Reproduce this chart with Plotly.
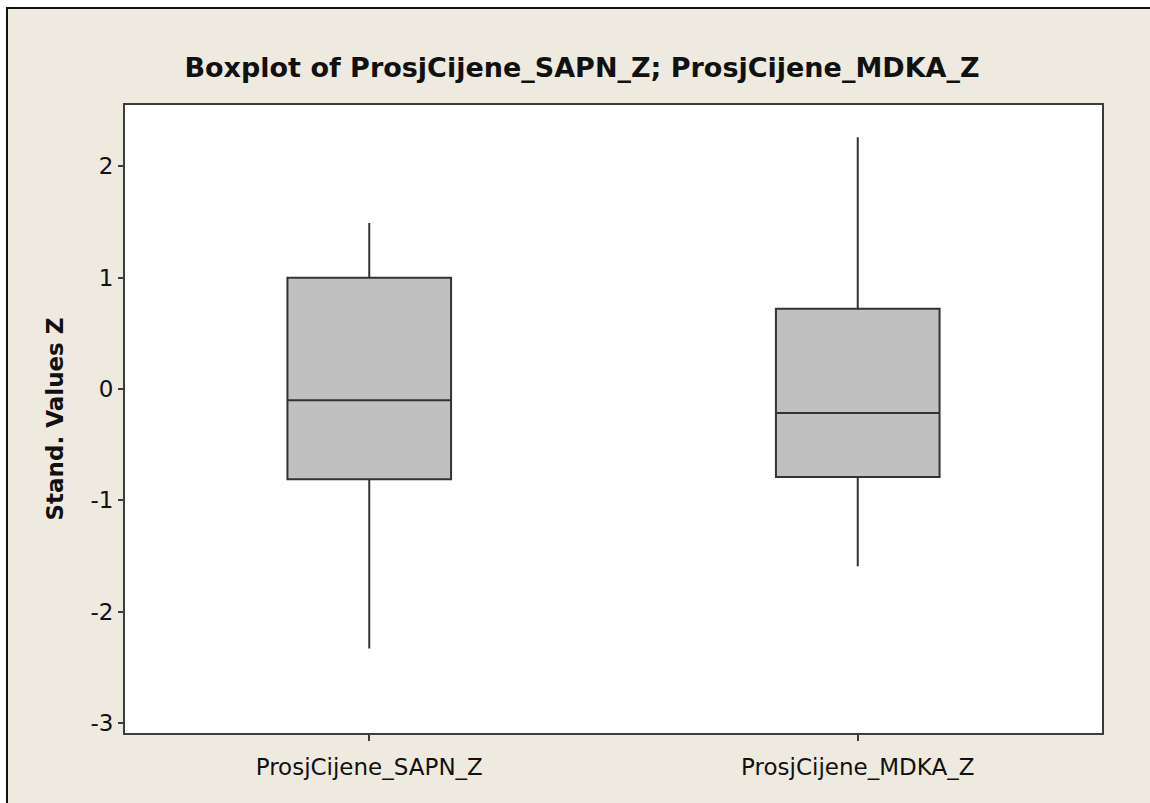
import plotly.graph_objects as go

# Data
categories = ["ProsjCijene_SAPN_Z", "ProsjCijene_MDKA_Z"]
q1_vals = [-0.81, -0.79]
median_vals = [-0.10, -0.215]
q3_vals = [1.00, 0.72]
lower_whisker = [-2.33, -1.59]
upper_whisker = [1.49, 2.26]
y_ticks = [-3, -2, -1, 0, 1, 2]

W, H = 1150, 803
ML, MR, MT, MB = 125, 48, 105, 70
PW, PH = W - ML - MR, H - MT - MB

def px_x(px):
    return (px - ML) / PW

def px_y(py):
    return (H - MB - py) / PH

BG = "#EEEADF"
DARK = "#333333"
FONT = "DejaVu Sans"

fig = go.Figure()
fig.add_trace(go.Box(
    x=categories,
    q1=q1_vals,
    median=median_vals,
    q3=q3_vals,
    lowerfence=lower_whisker,
    upperfence=upper_whisker,
    fillcolor="#C0C0C0",
    line=dict(color=DARK, width=2),
    whiskerwidth=0,
    width=0.335,
    boxpoints=False,
    showlegend=False,
))

shapes = [
    dict(type="rect", xref="paper", yref="paper", x0=px_x(-20), x1=px_x(6), y0=px_y(-20), y1=px_y(830),
         fillcolor="white", line=dict(width=0), layer="above"),
    dict(type="rect", xref="paper", yref="paper", x0=px_x(-20), x1=px_x(1180), y0=px_y(-20), y1=px_y(7),
         fillcolor="white", line=dict(width=0), layer="above"),
    dict(type="line", xref="paper", yref="paper", x0=px_x(7), x1=px_x(7), y0=px_y(7), y1=px_y(830),
         line=dict(color="#111111", width=2), layer="above"),
    dict(type="line", xref="paper", yref="paper", x0=px_x(6), x1=px_x(1180), y0=px_y(8), y1=px_y(8),
         line=dict(color="#111111", width=2), layer="above"),
]

fig.update_layout(
    width=W, height=H,
    margin=dict(l=ML, r=MR, t=MT, b=MB, pad=0),
    paper_bgcolor=BG,
    plot_bgcolor="white",
    font=dict(family=FONT, color="#111111"),
    title=dict(
        text="<b>Boxplot of ProsjCijene_SAPN_Z; ProsjCijene_MDKA_Z</b>",
        x=582 / W, xanchor="center", xref="container",
        y=1 - 68 / H, yanchor="middle", yref="container",
        font=dict(family=FONT, size=27, color="#111111"),
    ),
    xaxis=dict(
        type="category",
        range=[-0.5, 1.5],
        showline=True, mirror=True, linecolor="#3c3c3c", linewidth=2,
        ticks="outside", ticklen=6, tickwidth=2, tickcolor="#3c3c3c",
        ticklabelstandoff=6,
        showgrid=False, zeroline=False,
        tickfont=dict(family=FONT, size=23, color="#111111"),
        automargin=False,
    ),
    yaxis=dict(
        range=[-3.088, 2.55],
        tickvals=y_ticks,
        ticktext=[str(v) if v >= 0 else "-" + str(-v) for v in y_ticks],
        showline=True, mirror=True, linecolor="#3c3c3c", linewidth=2,
        ticks="outside", ticklen=5, tickwidth=2, tickcolor="#3c3c3c",
        showgrid=False, zeroline=False,
        tickfont=dict(family=FONT, size=23, color="#111111"),
        title=dict(text="<b>Stand. Values Z</b>", font=dict(family=FONT, size=23, color="#111111"), standoff=20),
        automargin=False,
    ),
    shapes=shapes,
)

fig.write_html(
    "out.html",
    config={"displayModeBar": False},
    post_script="document.body.style.margin='0';document.body.style.overflow='hidden';",
)
